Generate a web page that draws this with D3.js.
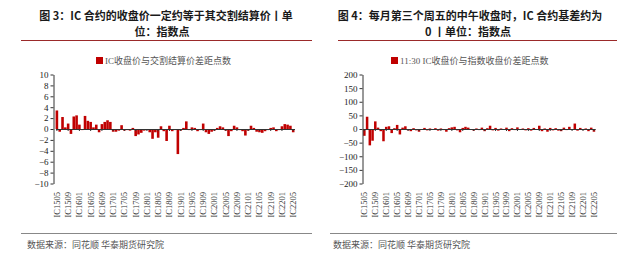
<!DOCTYPE html>
<html>
<head>
<meta charset="utf-8">
<script src="https://cdn.jsdelivr.net/npm/d3@7"></script>
<style>
  body { margin: 0; background: #fff; }
  svg { display: block; }
</style>
</head>
<body>
<svg id="chart" width="640" height="262"></svg>
<script>
// contracts IC1505 .. IC2205, one per month
var contracts = [];
for (var yy = 15; yy <= 22; yy++) {
    for (var mm = 1; mm <= 12; mm++) {
        if (yy == 15 && mm < 5) continue;
        if (yy == 22 && mm > 5) continue;
        contracts.push("IC" + yy + (mm < 10 ? "0" + mm : mm));
    }
}
var tickLabels = ["IC1505","IC1509","IC1601","IC1605","IC1609","IC1701","IC1705","IC1709","IC1801","IC1805","IC1809",
    "IC1901","IC1905","IC1909","IC2001","IC2005","IC2009","IC2101","IC2105","IC2109","IC2201","IC2205"];

// fig 3: close vs delivery settlement price, points
var settleDiff = [3.4,-0.5,2.2,0.3,1.0,-0.9,2.3,2.5,0.8,-0.2,2.4,1.5,1.3,0.3,0.8,-0.6,0.9,1.3,1.6,1.3,
    -0.5,-0.5,-0.3,0.7,-0.3,-0.2,-0.3,0.2,-1.3,-1.0,-0.7,-0.3,-0.2,-0.6,-1.8,-0.6,-1.6,0.5,-0.4,-2.2,
    0.6,-0.4,-0.2,-4.6,-0.3,0.2,1.4,-0.2,0.3,0.2,-0.4,-0.2,1.0,-0.6,-0.9,-0.5,-0.3,0.2,0.5,0.3,
    -0.3,-1.3,-0.4,0.6,0.3,-0.2,-0.4,-1.2,-0.3,0.6,0.2,-0.5,-0.6,-0.7,-0.4,-0.2,0.2,0.3,-0.4,-0.2,
    0.5,0.9,0.8,0.6,-0.6];

// fig 4: 11:30 close vs index close, points
var noonDiff = [-25,45,-60,-43,28,5,-8,-45,8,10,-15,3,15,-20,5,10,-5,-8,3,-5,
    -10,-3,4,-5,2,-3,3,-6,2,-4,-10,3,6,8,-5,-12,4,8,5,-3,
    -6,2,-4,5,-8,3,12,-5,4,-6,2,-3,5,-8,3,-4,6,-3,2,-5,
    3,-6,4,-3,12,-8,2,-10,4,-5,3,-6,-8,5,-4,8,-3,20,-6,4,
    -4,2,-8,5,-10];

var leftTicks = [10,8,6,4,2,0,-2,-4,-6,-8,-10];
var rightTicks = [200,150,100,50,0,-50,-100,-150,-200];

var svg = d3.select("#chart");
var sans = "'Noto Sans CJK SC', 'Noto Sans', sans-serif";
var serif = "'Liberation Serif', 'Noto Sans CJK SC', serif";

function panel(opt) {
    var g = svg.append("g");

    // title
    g.selectAll("text.title")
        .data(opt.title)
        .enter().append("text")
        .attr("x", function(d, i) { return opt.titleX[i]; })
        .attr("y", function(d, i) { return 20 + i * 16; })
        .attr("text-anchor", "middle")
        .style("font-family", sans)
        .style("font-weight", "bold")
        .style("font-size", "11px")
        .style("fill", "#1a1a1a")
        .text(function(d) { return d; });

    g.append("line")
        .attr("x1", opt.rule[0]).attr("x2", opt.rule[1])
        .attr("y1", 40.5).attr("y2", 40.5)
        .style("stroke", "#9b2a2a").style("stroke-width", 1);

    // legend
    g.append("rect")
        .attr("x", opt.legendX).attr("y", 57)
        .attr("width", 7).attr("height", 7)
        .style("fill", "#c00000");
    g.append("text")
        .attr("x", opt.legendX + 9).attr("y", 64)
        .style("font-family", serif)
        .style("font-size", "9px")
        .style("fill", "#555")
        .text(opt.legend);

    var x = d3.scaleBand()
        .domain(contracts)
        .range(opt.xRange)
        .paddingInner(0.08);

    var y = d3.scaleLinear()
        .domain([opt.ticks[opt.ticks.length - 1], opt.ticks[0]])
        .range([183.5, 74.5]);

    // bars
    g.selectAll("rect.bar")
        .data(opt.values)
        .enter().append("rect")
        .attr("class", "bar")
        .attr("x", function(d, i) { return x(contracts[i]); })
        .attr("width", x.bandwidth())
        .attr("y", function(d) { return y(Math.max(0, d)); })
        .attr("height", function(d) { return Math.abs(y(d) - y(0)); })
        .style("fill", "#c00000");

    // y axis
    var yAxis = g.append("g")
        .attr("transform", "translate(" + opt.axisX + ",0)")
        .call(d3.axisLeft(y).tickValues(opt.ticks).tickSize(3).tickSizeOuter(0).tickPadding(2));
    yAxis.select(".domain").style("stroke", "#333");
    yAxis.selectAll(".tick line").style("stroke", "#333");
    yAxis.selectAll("text")
        .style("font-family", serif)
        .style("font-size", "9px")
        .style("fill", "#222");

    // zero line with ticks
    var step = x.step();
    var zx = g.append("g")
        .attr("transform", "translate(0," + y(0) + ")")
        .call(d3.axisBottom(x).tickValues(tickLabels).tickSize(2).tickSizeOuter(0).tickFormat(""));
    zx.select(".domain").style("stroke", "#333");
    zx.selectAll(".tick line").style("stroke", "#333");

    // rotated category labels at the bottom
    g.selectAll("text.cat")
        .data(tickLabels)
        .enter().append("text")
        .attr("transform", function(d) {
            return "translate(" + (x(d) + x.bandwidth() / 2 + 3) + ",192) rotate(-90)";
        })
        .attr("text-anchor", "end")
        .style("font-family", serif)
        .style("font-size", "8.5px")
        .style("fill", "#333")
        .text(function(d) { return d; });

    // source
    g.append("line")
        .attr("x1", opt.foot[0]).attr("x2", opt.foot[1])
        .attr("y1", 233.5).attr("y2", 233.5)
        .style("stroke", "#888").style("stroke-width", 1);
    g.append("text")
        .attr("x", opt.sourceX).attr("y", 248)
        .style("font-family", sans)
        .style("font-size", "9px")
        .style("fill", "#555")
        .text("数据来源：同花顺  华泰期货研究院");
}

panel({
    title: ["图 3：IC 合约的收盘价一定约等于其交割结算价丨单", "位：指数点"],
    titleX: [166, 162],
    rule: [21, 312],
    legendX: 96,
    legend: "IC收盘价与交割结算价差距点数",
    values: settleDiff,
    ticks: leftTicks,
    xRange: [55.6, 294.5],
    axisX: 53.5,
    foot: [21, 312],
    sourceX: 27
});

panel({
    title: ["图 4：每月第三个周五的中午收盘时，IC 合约基差约为", "0 丨单位：指数点"],
    titleX: [470, 468],
    rule: [338, 617],
    legendX: 391,
    legend: "11:30 IC收盘价与指数收盘价差距点数",
    values: noonDiff,
    ticks: rightTicks,
    xRange: [363.1, 595.2],
    axisX: 362.5,
    foot: [330, 617],
    sourceX: 333
});
</script>
</body>
</html>
